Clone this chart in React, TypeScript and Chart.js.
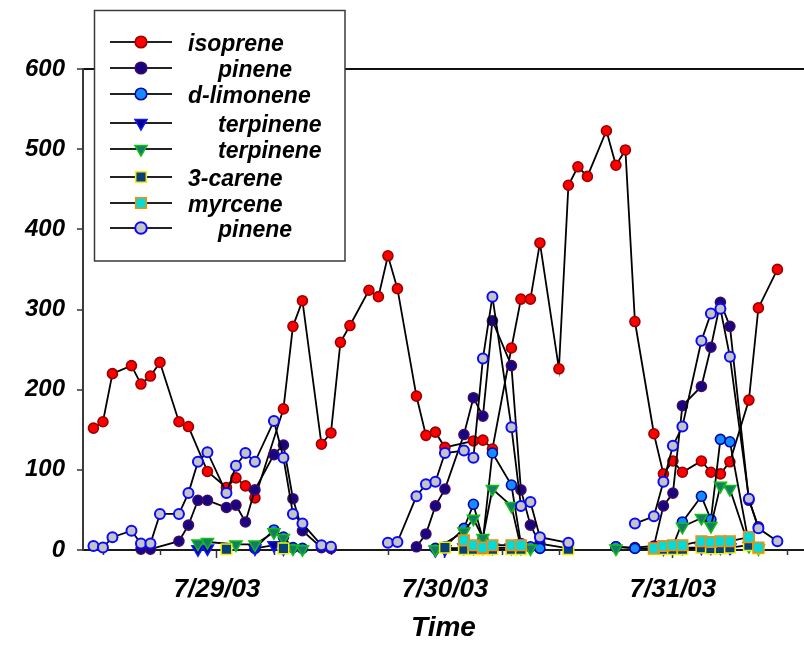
import { useEffect, useRef } from "react";
import { Chart, registerables } from "chart.js";

Chart.register(...registerables);

// Sample times are hours after 7/28/03 00:00; values are concentrations.
const isopreneHours = [11, 12, 13, 15, 16, 17, 18, 20, 21, 23, 25, 26, 27, 28, 31, 32, 33, 35, 36, 37, 38, 40, 41, 42, 43, 45, 46, 47, 48, 51, 52, 53, 55, 56, 57, 58, 60, 61, 62, 63, 65, 66, 67, 68, 70, 71, 72, 73, 75, 76, 77, 78, 80, 81, 83];
const isopreneValues = [152, 160, 220, 230, 207, 217, 234, 160, 154, 98, 78, 90, 80, 65, 176, 279, 311, 132, 146, 259, 280, 324, 316, 367, 326, 192, 143, 147, 128, 136, 137, 126, 252, 313, 313, 383, 226, 455, 478, 466, 523, 480, 499, 285, 145, 95, 111, 97, 111, 97, 95, 110, 187, 302, 350];

const alphaPineneHours = [16, 17, 20, 21, 22, 23, 25, 26, 27, 28, 30, 31, 32, 33, 35, 36, 45, 46, 47, 48, 50, 51, 52, 53, 55, 56, 57, 58, 61, 66, 68, 70, 71, 72, 73, 75, 76, 77, 78, 80, 81];
const alphaPineneValues = [1, 1, 11, 31, 62, 62, 53, 56, 35, 75, 119, 131, 64, 24, 3, 2, 4, 20, 55, 76, 144, 190, 167, 286, 230, 75, 31, 8, 2, 4, 3, 5, 55, 71, 180, 204, 253, 309, 279, 62, 29];

const limoneneHours = [28, 30, 31, 32, 33, 47, 48, 50, 51, 52, 53, 55, 56, 57, 58, 66, 68, 70, 71, 72, 73, 75, 76, 77, 78, 80, 81];
const limoneneValues = [2, 25, 16, 3, 2, 2, 4, 27, 57, 13, 121, 81, 8, 4, 2, 4, 2, 2, 3, 5, 35, 67, 38, 138, 135, 8, 3];

const alphaTerpineneHours = [22, 23, 28, 30, 31, 47, 48, 50, 51, 52, 53, 55, 56, 71, 72, 73, 75, 76, 77, 78];
const alphaTerpineneValues = [1, 2, 2, 6, 2, 0, 1, 3, 3, 3, 3, 3, 3, 2, 3, 3, 3, 3, 3, 3];

const gammaTerpineneHours = [22, 23, 26, 28, 30, 31, 32, 33, 47, 50, 51, 52, 53, 55, 56, 57, 66, 73, 75, 76, 77, 78, 80, 81];
const gammaTerpineneValues = [8, 10, 7, 7, 22, 15, 2, 1, 1, 23, 39, 15, 76, 55, 3, 2, 2, 29, 40, 30, 80, 76, 5, 2];

const careneHours = [25, 31, 48, 50, 51, 52, 53, 55, 56, 61, 70, 71, 72, 73, 75, 76, 77, 78, 80, 81];
const careneValues = [1, 2, 3, 1, 1, 1, 1, 1, 1, 1, 1, 1, 1, 1, 3, 2, 2, 3, 6, 2];

const myrceneHours = [50, 51, 52, 53, 55, 56, 70, 71, 72, 73, 75, 76, 77, 78, 80, 81];
const myrceneValues = [12, 6, 3, 6, 6, 6, 2, 5, 6, 6, 11, 10, 11, 11, 16, 3];

const betaPineneHours = [11, 12, 13, 15, 16, 17, 18, 20, 21, 22, 23, 25, 26, 27, 28, 30, 31, 32, 33, 35, 36, 42, 43, 45, 46, 47, 48, 50, 51, 52, 53, 55, 56, 57, 58, 61, 68, 70, 71, 72, 73, 75, 76, 77, 78, 80, 81, 83];
const betaPineneValues = [5, 3, 16, 24, 8, 8, 45, 45, 71, 110, 122, 71, 105, 121, 110, 161, 115, 45, 33, 6, 4, 9, 10, 67, 82, 85, 121, 124, 115, 239, 316, 153, 55, 60, 16, 9, 33, 42, 85, 130, 154, 261, 295, 301, 241, 64, 27, 11];

// Legend names (the Greek prefixes of the pinenes/terpinenes are not rendered)
const seriesNames = ["isoprene", "pinene", "d-limonene", "terpinene", "terpinene", "3-carene", "myrcene", "pinene"];

// Axis ticks
const dateTickHours = [24, 48, 72];
const dateTickLabels = ["7/29/03", "7/30/03", "7/31/03"];
const minorTickHours = [12, 18, 30, 36, 42, 54, 60, 66, 78, 84];
const yTickValues = [0, 100, 200, 300, 400, 500, 600];

const seriesHours = [isopreneHours, alphaPineneHours, limoneneHours, alphaTerpineneHours, gammaTerpineneHours, careneHours, myrceneHours, betaPineneHours];
const seriesValues = [isopreneValues, alphaPineneValues, limoneneValues, alphaTerpineneValues, gammaTerpineneValues, careneValues, myrceneValues, betaPineneValues];

// Runs of samples more than this many hours apart are not joined
const MAX_JOIN_HOURS = 4;

type Shape = "circle" | "triangle" | "rect";
interface MarkerStyle { shape: Shape; fill: string; stroke: string; r: number; bw: number; indent: number; }

const markerStyles: MarkerStyle[] = [
  { shape: "circle", fill: "#ff0000", stroke: "#9a0000", r: 5, bw: 1.6, indent: 0 },
  { shape: "circle", fill: "#18047e", stroke: "#3e0a6c", r: 5, bw: 1.6, indent: 30 },
  { shape: "circle", fill: "#168aff", stroke: "#0008a8", r: 5, bw: 1.6, indent: 0 },
  { shape: "triangle", fill: "#00008e", stroke: "#1414ff", r: 7, bw: 1.5, indent: 30 },
  { shape: "triangle", fill: "#167a6c", stroke: "#10c010", r: 7, bw: 1.5, indent: 30 },
  { shape: "rect", fill: "#06407f", stroke: "#f2f200", r: 7.5, bw: 1.5, indent: 0 },
  { shape: "rect", fill: "#00dcdc", stroke: "#ff8a00", r: 7.5, bw: 1.5, indent: 0 },
  { shape: "circle", fill: "#c4c4c4", stroke: "#0a0aff", r: 5, bw: 2, indent: 30 },
];

const FONT = '"Liberation Sans", Arial, Helvetica, sans-serif';

function toPoints(hours: number[], values: number[]) {
  const pts: { x: number; y: number | null }[] = [];
  hours.forEach((h, j) => {
    if (j > 0 && h - hours[j - 1] > MAX_JOIN_HOURS) {
      pts.push({ x: (h + hours[j - 1]) / 2, y: null });
    }
    pts.push({ x: h, y: values[j] });
  });
  return pts;
}

function drawMarker(ctx: CanvasRenderingContext2D, st: MarkerStyle, x: number, y: number) {
  ctx.beginPath();
  if (st.shape === "circle") {
    ctx.arc(x, y, st.r + 0.8, 0, Math.PI * 2);
  } else if (st.shape === "triangle") {
    const r = st.r;
    const h = r * Math.sin(Math.PI / 3);
    ctx.moveTo(x, y + r);
    ctx.lineTo(x - h, y - r / 2);
    ctx.lineTo(x + h, y - r / 2);
    ctx.closePath();
  } else {
    const s = st.r * Math.SQRT2;
    ctx.rect(x - s / 2, y - s / 2, s, s);
  }
  ctx.fillStyle = st.fill;
  ctx.fill();
  ctx.lineWidth = st.bw;
  ctx.strokeStyle = st.stroke;
  ctx.stroke();
}

// Boxed legend with a line-and-marker sample for each series
const boxLegend = {
  id: "boxLegend",
  afterDraw(chart: Chart) {
    const ctx = chart.ctx;
    const rowY = [42, 68, 94, 123, 149, 177, 203, 228];
    ctx.save();
    ctx.fillStyle = "#ffffff";
    ctx.fillRect(94, 10, 251, 251);
    ctx.strokeStyle = "#3a3a3a";
    ctx.lineWidth = 1.5;
    ctx.strokeRect(94.5, 10.5, 250.5, 250.5);
    seriesNames.forEach((name, i) => {
      const y = rowY[i];
      const st = markerStyles[i];
      ctx.beginPath();
      ctx.moveTo(110, y);
      ctx.lineTo(172, y);
      ctx.strokeStyle = "#222";
      ctx.lineWidth = 2;
      ctx.stroke();
      drawMarker(ctx, st, 141, y);
      ctx.fillStyle = "#000";
      ctx.font = `italic bold 23px ${FONT}`;
      ctx.textAlign = "left";
      ctx.textBaseline = "alphabetic";
      ctx.fillText(name, 188 + st.indent, y + 9);
    });
    ctx.restore();
  },
};

// Short unlabelled ticks every six hours between the date ticks
const minorTicks = {
  id: "minorTicks",
  beforeDatasetsDraw(chart: Chart) {
    const xs = chart.scales.x;
    const ctx = chart.ctx;
    const bottom = chart.chartArea.bottom;
    ctx.save();
    ctx.strokeStyle = "#333";
    ctx.lineWidth = 1.5;
    minorTickHours.forEach((h) => {
      const px = Math.round(xs.getPixelForValue(h)) + 0.5;
      ctx.beginPath();
      ctx.moveTo(px, bottom);
      ctx.lineTo(px, bottom + 5);
      ctx.stroke();
    });
    ctx.restore();
  },
};

export default function App() {
  const canvasRef = useRef<HTMLCanvasElement>(null);

  useEffect(() => {
    const canvas = canvasRef.current;
    if (!canvas) return;

    const datasets = seriesNames.map((name, i) => {
      const st = markerStyles[i];
      return {
        label: name,
        data: toPoints(seriesHours[i], seriesValues[i]),
        borderColor: "#000000",
        borderWidth: 1.8,
        backgroundColor: st.fill,
        pointStyle: st.shape,
        pointRotation: st.shape === "triangle" ? 180 : 0,
        pointRadius: st.r,
        pointHoverRadius: st.r,
        pointBackgroundColor: st.fill,
        pointBorderColor: st.stroke,
        pointBorderWidth: st.bw,
        tension: 0,
        spanGaps: false,
        clip: false as const,
        order: seriesNames.length - i,
      };
    });

    const chart = new Chart(canvas, {
      type: "line",
      data: { datasets },
      plugins: [minorTicks, boxLegend],
      options: {
        responsive: false,
        animation: false,
        devicePixelRatio: 1,
        layout: { autoPadding: false, padding: { top: 69, right: 0, left: 0, bottom: 0 } },
        plugins: { legend: { display: false }, tooltip: { enabled: false } },
        scales: {
          x: {
            type: "linear",
            min: 9.9,
            max: 85.8,
            afterBuildTicks: (scale: any) => {
              scale.ticks = dateTickHours.map((v) => ({ value: v }));
            },
            afterFit: (scale: any) => {
              scale.height = 95;
              scale.paddingLeft = 0;
              scale.paddingRight = 0;
            },
            ticks: {
              autoSkip: false,
              maxRotation: 0,
              padding: 16,
              color: "#000",
              font: { family: FONT, size: 26, style: "italic", weight: "bold" },
              callback: (v: any) => {
                const k = dateTickHours.indexOf(Number(v));
                return k >= 0 ? dateTickLabels[k] : "";
              },
            },
            grid: { drawOnChartArea: false, drawTicks: true, tickLength: 8, tickColor: "#333", tickWidth: 1.5 },
            border: { display: true, color: "#1a1a1a", width: 2 },
            title: {
              display: true,
              text: "Time",
              color: "#000",
              font: { family: FONT, size: 28, style: "italic", weight: "bold" },
              padding: { top: 0, bottom: 0 },
            },
          },
          y: {
            type: "linear",
            min: 0,
            max: 600,
            afterBuildTicks: (scale: any) => {
              scale.ticks = yTickValues.map((v) => ({ value: v }));
            },
            afterFit: (scale: any) => {
              scale.width = 83;
              scale.paddingTop = 0;
              scale.paddingBottom = 0;
            },
            ticks: {
              padding: 12,
              color: "#000",
              font: { family: FONT, size: 24, style: "italic", weight: "bold" },
            },
            grid: {
              drawTicks: true,
              tickLength: 6,
              tickColor: "#333",
              tickWidth: 1.5,
              lineWidth: 2,
              color: (c: any) => (c.tick && c.tick.value === 600 ? "#111" : "rgba(0,0,0,0)"),
            },
            border: { display: true, color: "#3a3a3a", width: 2 },
          },
        },
      },
    } as any);

    return () => chart.destroy();
  }, []);

  return (
    <div style={{ position: "absolute", left: 0, top: 0, width: 804, height: 645, background: "#fff" }}>
      <canvas ref={canvasRef} width={804} height={645} style={{ display: "block" }} />
    </div>
  );
}
